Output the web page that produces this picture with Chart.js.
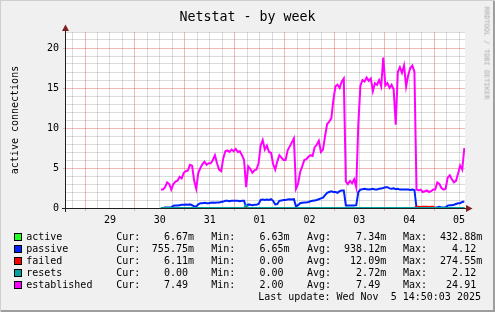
<!DOCTYPE html>
<html><head><meta charset="utf-8">
<script src="https://cdn.jsdelivr.net/npm/chart.js@4"></script>
<style>
html,body{margin:0;padding:0;background:#f0f0f0;}
#wrap{position:relative;width:495px;height:312px;background:#f0f0f0;overflow:hidden;font-family:'DejaVu Sans Mono',monospace;color:#000;box-shadow:inset 1px 1px 0 #cfcfcf, inset -2px -2px 0 #9e9e9e;}
canvas{position:absolute;left:0;top:0;}
.t{position:absolute;white-space:pre;font-size:10px;line-height:12px;}
.box{position:absolute;left:14px;width:6px;height:6px;border:1px solid #000;}
#title{position:absolute;left:0;width:495px;top:9.5px;text-align:center;font-size:13.3px;line-height:13.3px;white-space:pre;}
#ylab{position:absolute;left:14.8px;top:120px;font-size:10px;line-height:10px;white-space:pre;transform:translate(-50%,-50%) rotate(-90deg);}
#rrd{position:absolute;left:485.5px;top:53px;font-size:7px;line-height:7px;white-space:pre;color:#aaaaaa;transform:translate(-50%,-50%) rotate(90deg);}
</style>
</head><body>
<div id="wrap">
<canvas id="c" width="495" height="312"></canvas>
<div id="title">Netstat - by week</div>
<div id="ylab">active connections</div>
<div id="rrd">RRDTOOL / TOBI OETIKER</div>
<div id="legend"></div>
</div>
<script>
// Time axis: hours since Oct 29 00:00
const axisStartHour = -9.17;   // Oct 28 14:50
const axisEndHour = 182.83;    // Nov 5 14:50
const startHour = 36.5;        // first sample: Oct 30 12:30
const stepHours = 1;
const dayLabels = ['29','30','31','01','02','03','04','05'];
const yTickLabels = [0,5,10,15,20];

const seriesNames = ['active','passive','failed','resets','established'];
const seriesColors = ['#22ff22','#0022ff','#ff0000','#00a0a0','#ff00ff'];
const curValues = ['6.67m','755.75m','6.11m','0.00 ','7.49 '];
const minValues = ['6.63m','6.65m','0.00 ','0.00 ','2.00 '];
const avgValues = ['7.34m','938.12m','12.09m','2.72m','7.49 '];
const maxValues = ['432.88m','4.12 ','274.55m','2.12 ','24.91 '];
const lastUpdate = 'Last update: Wed Nov  5 14:50:03 2025';

const established = [
 2.3,2.3,2.6,3.2,3.0,2.3,3.0,3.3,3.4,3.9,
 3.7,4.4,4.6,4.7,5.4,5.3,3.4,2.4,4.4,5.0,
 5.5,5.8,5.4,5.6,5.6,6.0,6.6,5.6,4.8,4.6,
 6.2,7.1,7.2,7.0,7.3,7.1,7.4,7.0,7.1,6.6,
 6.0,2.6,5.2,4.9,4.4,4.7,4.8,5.6,7.8,8.5,
 7.3,7.8,7.0,6.9,5.5,4.8,5.8,6.6,6.3,6.0,
 6.0,7.2,7.7,8.2,8.7,2.4,3.0,4.5,5.2,6.0,
 6.1,6.4,6.6,6.5,7.6,7.9,8.4,7.0,7.3,9.0,
 10.5,10.8,11.2,13.5,15.2,15.4,15.0,15.8,16.2,3.3,
 3.0,3.4,3.1,3.6,2.6,10.5,15.3,16.0,15.8,16.3,
 15.9,16.2,14.6,15.6,15.4,16.0,15.2,18.8,15.3,15.6,
 15.0,15.4,14.8,10.4,17.0,17.6,16.9,17.8,15.2,16.6,
 17.5,17.8,17.0,2.3,2.2,2.3,2.0,2.1,2.2,2.0,
 2.1,2.3,2.3,3.2,3.0,2.5,2.3,2.4,3.8,4.1,
 3.6,3.2,3.4,4.3,5.3,4.8,7.5];

const passive = [
 0.0,0.0,0.05,0.05,0.05,0.1,0.28,0.3,0.3,0.35,
 0.4,0.4,0.45,0.4,0.45,0.35,0.2,0.2,0.45,0.6,
 0.6,0.65,0.6,0.6,0.65,0.7,0.65,0.7,0.7,0.75,
 0.8,0.9,0.9,0.85,0.9,0.9,0.9,0.9,0.85,0.9,
 0.9,0.1,0.45,0.4,0.35,0.4,0.4,0.5,1.0,1.05,
 1.0,1.05,1.0,1.1,0.9,0.45,0.5,0.9,0.95,1.0,
 1.0,1.05,1.1,1.05,1.1,0.2,0.35,0.6,0.65,0.7,
 0.7,0.75,0.85,0.9,0.95,1.0,1.1,1.2,1.3,1.6,
 1.9,2.0,2.1,2.0,2.0,1.9,2.1,2.2,2.2,0.3,
 0.3,0.3,0.3,0.3,0.35,2.0,2.3,2.35,2.4,2.35,
 2.3,2.35,2.4,2.3,2.3,2.4,2.45,2.5,2.6,2.6,
 2.45,2.4,2.45,2.35,2.4,2.3,2.3,2.3,2.3,2.3,
 2.25,2.3,2.25,0.0,0.0,0.0,0.0,0.0,0.0,0.0,
 0.0,0.0,0.0,0.1,0.15,0.05,0.05,0.1,0.3,0.35,
 0.35,0.4,0.5,0.6,0.6,0.75,0.8];

const active = [
 0.007,0.007,0.007,0.007,0.007,0.007,0.007,0.007,0.007,0.007,
 0.007,0.007,0.007,0.007,0.007,0.007,0.007,0.007,0.007,0.007,
 0.007,0.007,0.007,0.007,0.007,0.007,0.007,0.007,0.007,0.007,
 0.007,0.007,0.007,0.007,0.007,0.007,0.007,0.007,0.007,0.007,
 0.007,0.007,0.007,0.007,0.007,0.007,0.007,0.007,0.007,0.007,
 0.007,0.007,0.007,0.007,0.007,0.007,0.007,0.007,0.007,0.007,
 0.007,0.007,0.007,0.007,0.007,0.007,0.007,0.007,0.007,0.007,
 0.007,0.007,0.007,0.007,0.007,0.007,0.007,0.007,0.007,0.007,
 0.007,0.007,0.007,0.007,0.007,0.007,0.007,0.007,0.007,0.007,
 0.007,0.007,0.007,0.007,0.007,0.007,0.007,0.007,0.007,0.007,
 0.007,0.007,0.007,0.007,0.007,0.007,0.007,0.007,0.007,0.007,
 0.007,0.007,0.007,0.007,0.007,0.007,0.007,0.007,0.007,0.007,
 0.007,0.007,0.007,0.007,0.007,0.007,0.007,0.007,0.007,0.007,
 0.007,0.007,0.007,0.007,0.007,0.007,0.007,0.007,0.007,0.007,
 0.007,0.007,0.007,0.007,0.007,0.007,0.007];

const failed = [
 0.01,0.01,0.01,0.01,0.01,0.01,0.01,0.01,0.01,0.01,
 0.01,0.01,0.01,0.01,0.01,0.01,0.01,0.01,0.01,0.01,
 0.01,0.01,0.01,0.01,0.01,0.01,0.01,0.01,0.01,0.01,
 0.01,0.01,0.01,0.01,0.01,0.01,0.01,0.01,0.01,0.01,
 0.01,0.01,0.01,0.01,0.01,0.01,0.01,0.01,0.01,0.01,
 0.01,0.01,0.01,0.01,0.01,0.01,0.01,0.01,0.01,0.01,
 0.01,0.01,0.01,0.01,0.01,0.01,0.01,0.01,0.01,0.01,
 0.01,0.01,0.01,0.01,0.01,0.01,0.01,0.01,0.01,0.01,
 0.01,0.01,0.01,0.01,0.01,0.01,0.01,0.01,0.01,0.01,
 0.01,0.01,0.01,0.01,0.01,0.01,0.01,0.01,0.01,0.01,
 0.01,0.01,0.01,0.01,0.01,0.01,0.01,0.01,0.01,0.01,
 0.01,0.01,0.01,0.01,0.01,0.01,0.01,0.01,0.01,0.01,
 0.01,0.01,0.01,0.15,0.15,0.14,0.15,0.16,0.15,0.14,
 0.15,0.15,0.01,0.01,0.01,0.01,0.01,0.01,0.01,0.01,
 0.01,0.01,0.01,0.01,0.01,0.01,0.01];

const resets = [
 0,0,0,0,0,0,0,0,0,0,
 0,0,0,0,0,0,0,0,0,0,
 0,0,0,0,0,0,0,0,0,0,
 0,0,0,0,0,0,0,0,0,0,
 0,0.35,0,0,0,0,0,0,0,0,
 0,0,0,0,0,0,0,0,0,0,
 0,0,0,0,0,0,0,0,0,0,
 0,0,0,0,0,0,0,0,0,0,
 0,0,0,0,0,0,0,0,0,0,
 0,0,0,0,0,0,0,0,0,0,
 0,0,0,0,0,0,0,0,0,0,
 0,0,0,0,0,0,0,0,0,0,
 0,0,0,0,0,0,0,0,0,0,
 0,0,0,0,0,0,0,0,0,0,
 0,0,0,0,0,0,0];

const seriesValues = [active, passive, failed, resets, established];

// ---- legend (HTML text) ----
const leg = document.getElementById('legend');
function addText(txt, left, right, top){
  const d = document.createElement('div');
  d.className = 't';
  d.textContent = txt;
  d.style.top = top + 'px';
  if (left !== null) d.style.left = left + 'px';
  if (right !== null) d.style.right = right + 'px';
  leg.appendChild(d);
}
seriesNames.forEach((n,k)=>{
  const top = 230.5 + 12*k;
  const b = document.createElement('div');
  b.className = 'box';
  b.style.top = (233 + 12*k) + 'px';
  b.style.background = seriesColors[k];
  leg.appendChild(b);
  addText(n, 26.2, null, top);
  addText('Cur:', 116.2, null, top);
  addText(curValues[k], null, 301, top);
  addText('Min:', 211.2, null, top);
  addText(minValues[k], null, 205.5, top);
  addText('Avg:', 307, null, top);
  addText(avgValues[k], null, 108.8, top);
  addText('Max:', 403, null, top);
  addText(maxValues[k], null, 12.8, top);
});
addText(lastUpdate, null, 14, 290.5);

// ---- chart ----
const gridGrey = 'rgba(143,143,143,0.32)';
const gridRed = 'rgba(222,80,80,0.42)';

const toPoints = vals => vals.map((v,i)=>({x: startHour + i*stepHours, y: v}));

const frame = {
  id: 'frame',
  beforeDraw(chart){
    const {ctx, chartArea: a} = chart;
    ctx.save();
    ctx.fillStyle = '#ffffff';
    ctx.fillRect(a.left, a.top, a.right - a.left, a.bottom - a.top);
    ctx.restore();
  },
  afterDatasetsDraw(chart){
    const {ctx, chartArea: a} = chart;
    const y0 = Math.round(chart.scales.y.getPixelForValue(0)) + 0.5;
    const x0 = a.left - 0.5;
    ctx.save();
    ctx.strokeStyle = '#1f1f1f';
    ctx.lineWidth = 1;
    ctx.beginPath();
    ctx.moveTo(a.left - 4, y0); ctx.lineTo(a.right + 2, y0);
    ctx.moveTo(x0, a.bottom + 4); ctx.lineTo(x0, a.top - 2);
    ctx.stroke();
    ctx.fillStyle = '#801f1f';
    ctx.beginPath();
    ctx.moveTo(a.right + 1, y0 - 3.5); ctx.lineTo(a.right + 1, y0 + 3.5); ctx.lineTo(a.right + 7.5, y0);
    ctx.closePath(); ctx.fill();
    ctx.beginPath();
    ctx.moveTo(x0 - 3.5, a.top - 1); ctx.lineTo(x0 + 3.5, a.top - 1); ctx.lineTo(x0, a.top - 7.5);
    ctx.closePath(); ctx.fill();
    ctx.restore();
  }
};

const order = [5,4,3,2,1];
new Chart(document.getElementById('c'), {
  type: 'line',
  data: {
    datasets: seriesNames.map((n,k)=>({
      label: n,
      data: toPoints(seriesValues[k]),
      borderColor: seriesColors[k],
      backgroundColor: seriesColors[k],
      borderWidth: 2,
      pointRadius: 0,
      tension: 0,
      fill: false,
      order: order[k]
    }))
  },
  options: {
    responsive: false,
    animation: false,
    events: [],
    layout: {padding: {left: 0, right: 30, top: 32, bottom: 0}},
    plugins: {legend: {display: false}, tooltip: {enabled: false}, title: {display: false}},
    scales: {
      x: {
        type: 'linear',
        min: axisStartHour,
        max: axisEndHour,
        afterBuildTicks(scale){
          const t = [];
          for (let h = -6; h <= 180; h += 6) t.push({value: h});
          scale.ticks = t;
        },
        afterFit(scale){ scale.height = 104; },
        border: {display: false},
        grid: {
          color: c => (c.tick && c.tick.value % 24 === 0) ? gridRed : gridGrey,
          tickColor: c => (c.tick && c.tick.value % 24 === 0) ? gridRed : 'rgba(0,0,0,0)',
          tickLength: 3,
          lineWidth: 1
        },
        ticks: {
          autoSkip: false, maxRotation: 0, padding: 3,
          color: '#000',
          font: {family: 'DejaVu Sans Mono', size: 10},
          callback: v => ((v - 12) % 24 === 0 && v >= 12) ? dayLabels[(v - 12) / 24] : ''
        }
      },
      y: {
        min: 0, max: 22,
        afterFit(scale){ scale.width = 66; },
        border: {display: false},
        grid: {
          color: c => (c.tick && c.tick.value % 5 === 0) ? gridRed : gridGrey,
          tickColor: c => (c.tick && c.tick.value % 5 === 0) ? gridRed : 'rgba(0,0,0,0)',
          tickLength: 3,
          lineWidth: 1
        },
        ticks: {
          stepSize: 1, autoSkip: false, padding: 4,
          color: '#000',
          font: {family: 'DejaVu Sans Mono', size: 10},
          callback: v => yTickLabels.includes(v) ? String(v) : ''
        }
      }
    }
  },
  plugins: [frame]
});
</script>
</body></html>
